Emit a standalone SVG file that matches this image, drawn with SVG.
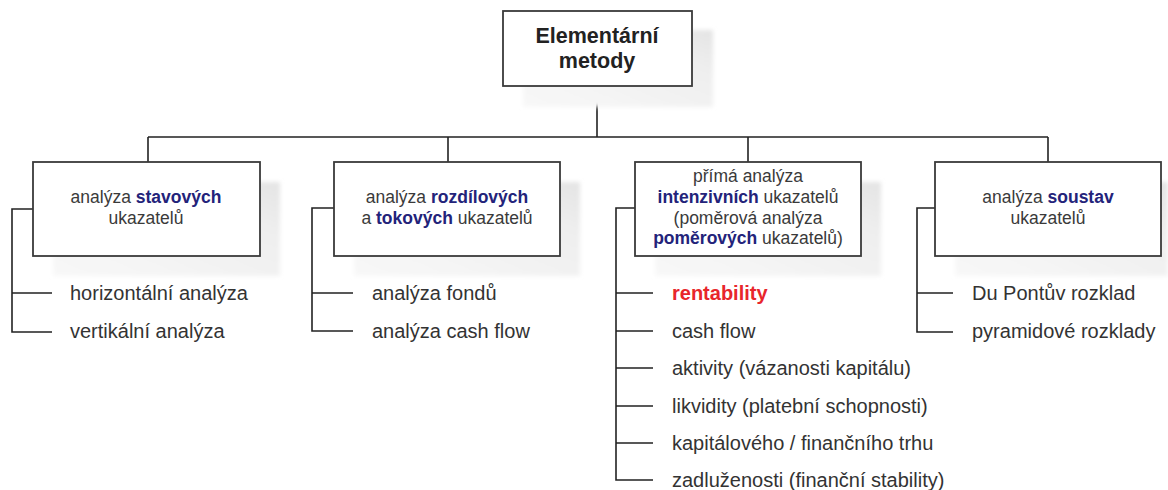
<svg xmlns="http://www.w3.org/2000/svg" width="1168" height="490" viewBox="0 0 1168 490">
<defs>
<linearGradient id="sg" x1="0" y1="1" x2="1" y2="0">
<stop offset="0" stop-color="#f8f8f8"/>
<stop offset="0.7" stop-color="#efefef"/>
<stop offset="1" stop-color="#e4e4e4"/>
</linearGradient>
<filter id="blur" x="-10%" y="-10%" width="120%" height="120%"><feGaussianBlur stdDeviation="2"/></filter>
</defs>
<style>
.box{fill:#fff;stroke:#3a3a3a;stroke-width:1.8}
.sh{fill:url(#sg);filter:url(#blur)}
.ln{fill:none;stroke:#222;stroke-width:1.6}
.t{font-family:"Liberation Sans",Arial,sans-serif;font-size:17.5px;fill:#3a3a3a;text-anchor:middle}
.c{font-family:"Liberation Sans",Arial,sans-serif;font-size:20px;fill:#333}
.b{font-weight:bold;fill:#23237a}
.h{font-family:"Liberation Sans",Arial,sans-serif;font-size:21.5px;font-weight:bold;fill:#222;text-anchor:middle}
.r{font-weight:bold;fill:#e8262b}
</style>
<rect width="1168" height="490" fill="#fff"/>
<g id="connectors">
<path class="ln" d="M597 86V137M148 137H1048M148 137V162M448 137V162M748 137V162M1048 137V162"/>
<path class="ln" d="M33 209H12V332H52M12 293H52"/>
<path class="ln" d="M334 208H312V331H353M312 293H353"/>
<path class="ln" d="M635 208H616V480H653M616 293H653M616 331H653M616 368H653M616 406H653M616 443H653"/>
<path class="ln" d="M935 208H917V332H953M917 293H953"/>
</g>
<g id="root">
<rect class="sh" x="523" y="30" width="190" height="77"/>
<rect class="box" x="503" y="11" width="189" height="75"/>
<text class="h" x="597" y="43">Elementární</text>
<text class="h" x="597" y="68">metody</text>
</g>
<g id="n1">
<rect class="sh" x="53" y="182" width="227" height="94"/>
<rect class="box" x="33" y="162" width="227" height="94"/>
<text class="t" x="146" y="203">analýza <tspan class="b">stavových</tspan></text>
<text class="t" x="146" y="224">ukazatelů</text>
</g>
<g id="n2">
<rect class="sh" x="354" y="182" width="226" height="94"/>
<rect class="box" x="334" y="162" width="226" height="94"/>
<text class="t" x="447" y="203">analýza <tspan class="b">rozdílových</tspan></text>
<text class="t" x="447" y="224">a <tspan class="b">tokových</tspan> ukazatelů</text>
</g>
<g id="n3">
<rect class="sh" x="655" y="182" width="226" height="94"/>
<rect class="box" x="635" y="162" width="226" height="94"/>
<text class="t" x="748" y="182">přímá analýza</text>
<text class="t" x="748" y="203"><tspan class="b">intenzivních</tspan> ukazatelů</text>
<text class="t" x="748" y="223.5">(poměrová analýza</text>
<text class="t" x="748" y="244"><tspan class="b">poměrových</tspan> ukazatelů)</text>
</g>
<g id="n4">
<rect class="sh" x="955" y="182" width="213" height="94"/>
<rect class="box" x="935" y="162" width="226" height="94"/>
<text class="t" x="1048" y="203">analýza <tspan class="b">soustav</tspan></text>
<text class="t" x="1048" y="224">ukazatelů</text>
</g>
<g id="leaves1">
<text class="c" x="70" y="300">horizontální analýza</text>
<text class="c" x="70" y="338">vertikální analýza</text>
</g>
<g id="leaves2">
<text class="c" x="372" y="300">analýza fondů</text>
<text class="c" x="372" y="338">analýza cash flow</text>
</g>
<g id="leaves3">
<text class="c r" x="672" y="300">rentability</text>
<text class="c" x="672" y="338">cash flow</text>
<text class="c" x="672" y="375">aktivity (vázanosti kapitálu)</text>
<text class="c" x="672" y="413">likvidity (platební schopnosti)</text>
<text class="c" x="672" y="450">kapitálového / finančního trhu</text>
<text class="c" x="672" y="487">zadluženosti (finanční stability)</text>
</g>
<g id="leaves4">
<text class="c" x="972" y="300">Du Pontův rozklad</text>
<text class="c" x="972" y="338">pyramidové rozklady</text>
</g>
</svg>
